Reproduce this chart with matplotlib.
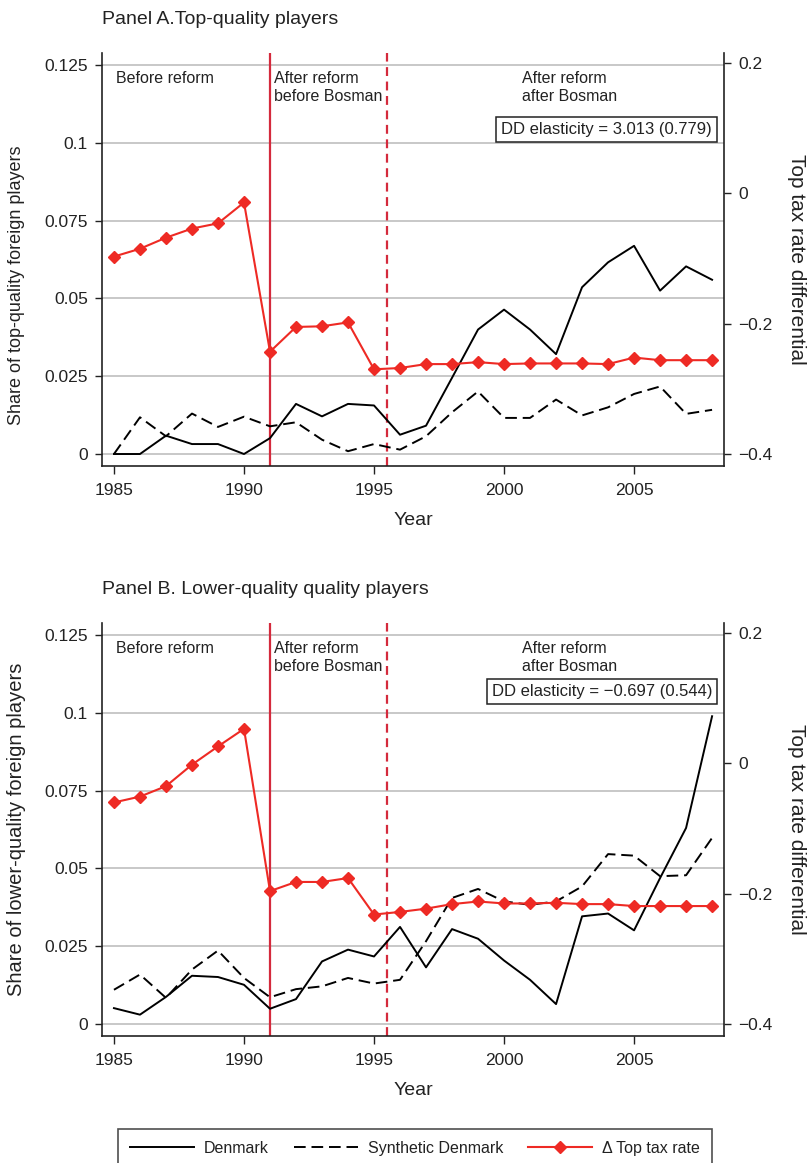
import matplotlib.pyplot as plt
from matplotlib.lines import Line2D

plt.rcParams['font.family'] = ['Liberation Sans', 'DejaVu Sans']
plt.rcParams['text.color'] = '#222222'
plt.rcParams['axes.labelcolor'] = '#222222'

years = list(range(1985, 2009))

# Panel A: top-quality players
denmark_top = [0.0, 0.0, 0.0059, 0.0032, 0.0032, 0.0, 0.0051, 0.0161, 0.0121, 0.0161,
               0.0156, 0.0062, 0.0091, 0.0245, 0.0400, 0.0464, 0.0400, 0.0321, 0.0536,
               0.0616, 0.0669, 0.0525, 0.0603, 0.0560]
synthetic_top = [0.0, 0.0118, 0.0057, 0.0130, 0.0087, 0.0120, 0.0089, 0.0102, 0.0046, 0.0009,
                 0.0032, 0.0014, 0.0057, 0.0134, 0.0201, 0.0116, 0.0116, 0.0175, 0.0124,
                 0.0150, 0.0193, 0.0217, 0.0129, 0.0142]
tax_top = [-0.097, -0.085, -0.068, -0.054, -0.046, -0.014, -0.243, -0.205, -0.204, -0.198,
           -0.270, -0.268, -0.262, -0.262, -0.259, -0.262, -0.261, -0.261, -0.261,
           -0.262, -0.252, -0.256, -0.256, -0.256]

# Panel B: lower-quality players
denmark_low = [0.0051, 0.0030, 0.0087, 0.0155, 0.0151, 0.0126, 0.0049, 0.0080, 0.0201, 0.0239,
               0.0217, 0.0312, 0.0182, 0.0305, 0.0274, 0.0204, 0.0142, 0.0064, 0.0346,
               0.0355, 0.0301, 0.0469, 0.0630, 0.0989]
synthetic_low = [0.0110, 0.0159, 0.0084, 0.0175, 0.0236, 0.0148, 0.0086, 0.0112, 0.0121, 0.0148,
                 0.0130, 0.0142, 0.0266, 0.0405, 0.0434, 0.0394, 0.0383, 0.0394, 0.0442,
                 0.0546, 0.0541, 0.0475, 0.0478, 0.0598]
tax_low = [-0.060, -0.051, -0.035, -0.002, 0.026, 0.053, -0.196, -0.182, -0.182, -0.176,
           -0.232, -0.228, -0.223, -0.216, -0.212, -0.215, -0.215, -0.214, -0.216,
           -0.216, -0.219, -0.219, -0.219, -0.219]

share_ticks = [0, 0.025, 0.05, 0.075, 0.1, 0.125]
share_labels = ['0', '0.025', '0.05', '0.075', '0.1', '0.125']
tax_ticks = [-0.4, -0.2, 0, 0.2]
tax_labels = ['\u22120.4', '\u22120.2', '0', '0.2']
year_ticks = [1985, 1990, 1995, 2000, 2005]

reform_year = 1991
bosman_year = 1995.5

RED = '#ee2a24'
VRED = '#d42a3c'
INK = '#222222'

fig = plt.figure(figsize=(8.07, 11.63), dpi=100)


def draw_panel(rect, title, title_y, ylabel, ylabel_size, ylabel_y,
               denmark, synthetic, tax, dd_text, dd_y):
    ax = fig.add_axes(rect)
    ax2 = ax.twinx()

    ax.set_xlim(1984.54, 2008.46)
    ax.set_ylim(-0.003857, 0.12886)
    ax2.set_ylim(-0.41842, 0.21538)

    ax.set_yticks(share_ticks)
    ax.set_yticklabels(share_labels)
    ax2.set_yticks(tax_ticks)
    ax2.set_yticklabels(tax_labels)
    ax.set_xticks(year_ticks)

    ax.yaxis.grid(True, color='#c8c8c8', lw=1.4)
    ax.set_axisbelow(True)

    for a in (ax, ax2):
        a.spines['top'].set_visible(False)
        for s in a.spines.values():
            s.set_color(INK)
            s.set_linewidth(1.2)
    ax.spines['right'].set_visible(False)
    ax2.spines['left'].set_visible(False)
    ax2.spines['bottom'].set_visible(False)

    ax.tick_params(axis='y', direction='out', length=5, width=1, pad=5,
                   labelsize=12.5, colors=INK)
    ax.tick_params(axis='x', direction='out', length=6, width=1, pad=6,
                   labelsize=12.5, colors=INK)
    ax2.tick_params(axis='y', direction='out', length=5, width=1, pad=5,
                    labelsize=12.5, colors=INK)

    ax.axvline(reform_year, color=VRED, lw=1.6, zorder=1)
    ax.axvline(bosman_year, color=VRED, lw=1.6, ls=(0, (4, 2.5)), zorder=1)

    ax.plot(years, denmark, color='black', lw=1.4, zorder=3)
    ax.plot(years, synthetic, color='black', lw=1.4, ls=(0, (6, 3)), zorder=3)
    ax2.plot(years, tax, color=RED, lw=1.5, marker='D', ms=6, zorder=3)

    tr = ax.get_xaxis_transform()
    ax.text(1985.08, 0.956, 'Before reform', transform=tr, fontsize=11.5, va='top')
    ax.text(1991.15, 0.956, 'After reform\nbefore Bosman', transform=tr,
            fontsize=11.5, va='top', linespacing=1.2)
    ax.text(2000.69, 0.956, 'After reform\nafter Bosman', transform=tr,
            fontsize=11.5, va='top', linespacing=1.2)
    ax.text(0.9807, dd_y, dd_text, transform=ax.transAxes, fontsize=12,
            ha='right', va='center', zorder=5,
            bbox=dict(boxstyle='square,pad=0.3', fc='white', ec=INK, lw=1.1))

    ax.set_xlabel('Year', fontsize=14, labelpad=10)
    ax.set_ylabel(ylabel, fontsize=ylabel_size, va='center')
    ax.yaxis.set_label_coords(-0.137, ylabel_y)
    ax2.set_ylabel('Top tax rate differential', fontsize=15, rotation=270, va='center')
    ax2.yaxis.set_label_coords(1.117, 0.5)

    fig.text(102 / 807, title_y, title, fontsize=14, va='baseline')
    return ax


draw_panel([0.1264, 0.5993, 0.7708, 0.3551], 'Panel A.Top-quality players',
           1 - 24 / 1163, 'Share of top-quality foreign players', 13, 0.438,
           denmark_top, synthetic_top, tax_top,
           'DD elasticity = 3.013 (0.779)', 0.816)
draw_panel([0.1264, 0.1092, 0.7708, 0.3551], 'Panel B. Lower-quality quality players',
           1 - 594 / 1163, 'Share of lower-quality foreign players', 14.5, 0.5,
           denmark_low, synthetic_low, tax_low,
           'DD elasticity = \u22120.697 (0.544)', 0.8333)

handles = [Line2D([], [], color='black', lw=1.4),
           Line2D([], [], color='black', lw=1.4, ls=(0, (6, 3))),
           Line2D([], [], color=RED, lw=1.5, marker='D', ms=6)]
labels = ['Denmark', 'Synthetic Denmark', '\u0394 Top tax rate']
leg = fig.legend(handles, labels, loc='upper center', bbox_to_anchor=(415 / 807, 1 - 1129 / 1163),
                 ncol=3, fontsize=11.5, frameon=True, fancybox=False, edgecolor=INK,
                 handlelength=4.0, handletextpad=0.6, columnspacing=1.6, borderpad=0.75,
                 borderaxespad=0)
leg.get_frame().set_linewidth(1.2)

fig.savefig('out.png', dpi=100)
